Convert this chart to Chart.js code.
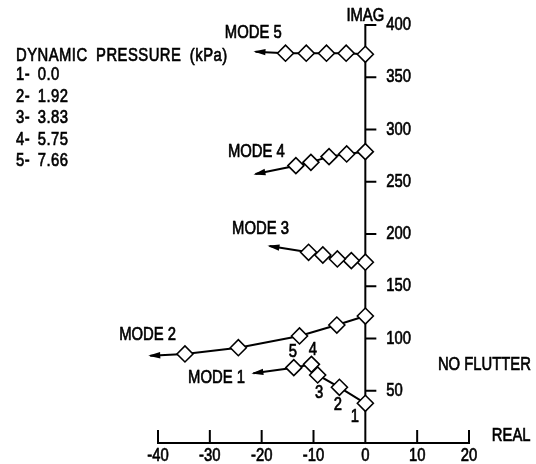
<!DOCTYPE html>
<html><head><meta charset="utf-8">
<script src="https://cdn.jsdelivr.net/npm/chart.js@4/dist/chart.umd.min.js"></script>
<style>html,body{margin:0;padding:0;background:#fff}#wrap{width:536px;height:464px}</style>
</head><body><div id="wrap"><canvas id="c" width="536" height="464"></canvas></div>
<script>
// ---- data ----
const legendTitle = 'DYNAMIC PRESSURE (kPa)';
const pressureLabels = ['1- 0.0', '2- 1.92', '3- 3.83', '4- 5.75', '5- 7.66'];
const modeNames = ['MODE 1', 'MODE 2', 'MODE 3', 'MODE 4', 'MODE 5'];
const mode1Real = [0, -5.0, -9.2, -10.4, -13.8];
const mode1Imag = [38.0, 53.3, 65.1, 75.3, 72.1];
const mode2Real = [0, -5.5, -12.7, -24.5, -34.8];
const mode2Imag = [121.5, 112.9, 102.4, 91.2, 85.2];
const mode3Real = [0, -2.7, -5.4, -8.2, -10.95];
const mode3Imag = [173.0, 174.5, 176.1, 179.9, 182.5];
const mode4Real = [0, -3.6, -7.0, -10.5, -13.4];
const mode4Imag = [278.8, 276.6, 274.0, 268.6, 265.4];
const mode5Real = [0, -3.7, -7.5, -11.4, -15.4];
const mode5Imag = [372, 373, 373, 373, 373];
const arrowTipReal = [-21.6, -41.5, -18.5, -21.2, -21.2];
const arrowTipImag = [66.7, 83.5, 188.5, 257.4, 374.5];
const pointNumbers = ['1', '2', '3', '4', '5'];
const xTicks = [-40, -30, -20, -10, 0, 10, 20];
const yTicks = [50, 100, 150, 200, 250, 300, 350, 400];
const xAxisTitle = 'REAL';
const yAxisTitle = 'IMAG';
const noteText = 'NO FLUTTER';

const FONT = '"Liberation Sans","Arial",sans-serif';
const FONT_PX = 19;
const SQUEEZE = 0.78;
const modesReal = [mode1Real, mode2Real, mode3Real, mode4Real, mode5Real];
const modesImag = [mode1Imag, mode2Imag, mode3Imag, mode4Imag, mode5Imag];

const datasets = modesReal.map((re, m) => {
  const pts = re.map((x, i) => ({x: x, y: modesImag[m][i]}));
  pts.push({x: arrowTipReal[m], y: arrowTipImag[m]});
  return {
    label: modeNames[m],
    data: pts,
    showLine: true,
    borderColor: '#000',
    borderWidth: 2,
    pointStyle: 'rectRot',
    pointRadius: pts.map((p, i) => i < re.length ? 8 : 0),
    pointBackgroundColor: '#fff',
    pointBorderColor: '#000',
    pointBorderWidth: 1.6,
    clip: false
  };
});

// label positions (data coordinates)
const modeLabelReal = [-34.2, -47.5, -25.7, -26.5, -27.1];
const modeLabelImag = [62, 104, 205, 279, 393];
const pointLabelReal = [-2.0, -5.3, -8.9, -10.1, -14.0];
const pointLabelImag = [24.9, 36.4, 47.8, 89.0, 87.4];

function txt(ctx, s, x, y, align, spacing) {
  ctx.save();
  ctx.translate(x, y);
  ctx.scale(SQUEEZE, 1);
  ctx.font = FONT_PX + 'px ' + FONT;
  if (spacing) { ctx.wordSpacing = spacing; ctx.letterSpacing = '0.6px'; }
  ctx.textAlign = align || 'left';
  ctx.textBaseline = 'middle';
  ctx.fillStyle = '#000';
  ctx.strokeStyle = '#000';
  ctx.lineWidth = 0.7;
  ctx.fillText(s, 0, 0);
  ctx.strokeText(s, 0, 0);
  ctx.restore();
}

const axesPlugin = {
  id: 'axes',
  beforeDatasetsDraw(chart) {
    const ctx = chart.ctx, xs = chart.scales.x, ys = chart.scales.y;
    const x0 = xs.getPixelForValue(0), y0 = ys.getPixelForValue(0);
    ctx.save();
    ctx.strokeStyle = '#000';
    ctx.lineWidth = 2;
    ctx.lineCap = 'square';
    ctx.beginPath();
    ctx.moveTo(xs.getPixelForValue(-40), y0);
    ctx.lineTo(xs.getPixelForValue(20), y0);
    ctx.moveTo(x0, y0);
    ctx.lineTo(x0, ys.getPixelForValue(400));
    xTicks.forEach(t => {
      const px = xs.getPixelForValue(t);
      ctx.moveTo(px, y0);
      ctx.lineTo(px, y0 - 12);
    });
    yTicks.forEach(t => {
      const py = ys.getPixelForValue(t);
      ctx.moveTo(x0, py);
      ctx.lineTo(x0 + 10, py);
    });
    ctx.stroke();
    ctx.restore();
    xTicks.forEach(t => txt(ctx, String(t), xs.getPixelForValue(t), y0 + 13, 'center'));
    yTicks.forEach(t => txt(ctx, String(t), x0 + 21, ys.getPixelForValue(t), 'left'));
  },
  afterDatasetsDraw(chart) {
    const ctx = chart.ctx, xs = chart.scales.x, ys = chart.scales.y;
    ctx.save();
    ctx.fillStyle = '#000';
    // arrowheads
    chart.data.datasets.forEach((ds) => {
      const n = ds.data.length;
      const a = ds.data[n - 2], b = ds.data[n - 1];
      const ax = xs.getPixelForValue(a.x), ay = ys.getPixelForValue(a.y);
      const bx = xs.getPixelForValue(b.x), by = ys.getPixelForValue(b.y);
      const ang = Math.atan2(by - ay, bx - ax);
      const L = 10, W = 3.2;
      ctx.beginPath();
      ctx.moveTo(bx + Math.cos(ang) * 2, by + Math.sin(ang) * 2);
      ctx.lineTo(bx - Math.cos(ang) * L - Math.sin(ang) * W, by - Math.sin(ang) * L + Math.cos(ang) * W);
      ctx.lineTo(bx - Math.cos(ang) * L + Math.sin(ang) * W, by - Math.sin(ang) * L - Math.cos(ang) * W);
      ctx.closePath();
      ctx.fill();
    });
    ctx.restore();
    modeNames.forEach((t, i) => txt(ctx, t, xs.getPixelForValue(modeLabelReal[i]), ys.getPixelForValue(modeLabelImag[i]), 'left'));
    pointNumbers.forEach((t, i) => txt(ctx, t, xs.getPixelForValue(pointLabelReal[i]), ys.getPixelForValue(pointLabelImag[i]), 'center'));
    txt(ctx, yAxisTitle, xs.getPixelForValue(0), ys.getPixelForValue(409), 'center');
    txt(ctx, xAxisTitle, xs.getPixelForValue(24.4), ys.getPixelForValue(7), 'left');
    txt(ctx, noteText, xs.getPixelForValue(14), ys.getPixelForValue(75), 'left');
    // legend block
    txt(ctx, legendTitle, 16, 56, 'left', '5px');
    const ly = [75, 97, 118, 140, 161];
    pressureLabels.forEach((t, i) => txt(ctx, t, 16, ly[i], 'left', '4px'));
  }
};

new Chart(document.getElementById('c'), {
  type: 'scatter',
  data: {datasets: datasets},
  options: {
    responsive: false,
    animation: false,
    layout: {padding: {left: 158, right: 67, top: 25, bottom: 21}},
    scales: {
      x: {type: 'linear', min: -40, max: 20, display: false},
      y: {type: 'linear', min: 0, max: 400, display: false}
    },
    plugins: {legend: {display: false}, tooltip: {enabled: false}}
  },
  plugins: [axesPlugin]
});
</script>
</body></html>
